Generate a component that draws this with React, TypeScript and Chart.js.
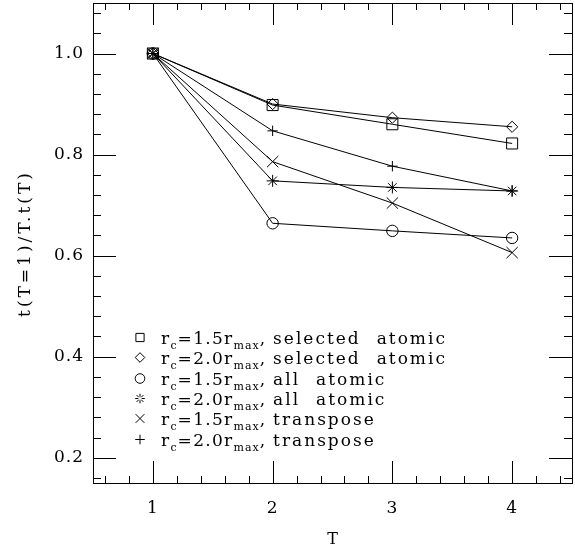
import React, { useEffect, useRef } from 'react';
import { Chart, registerables } from 'chart.js';

Chart.register(...registerables);

const T = [1, 2, 3, 4];
const sel15 = [1.0, 0.898, 0.86, 0.822];
const sel20 = [1.0, 0.9, 0.873, 0.855];
const all15 = [1.0, 0.664, 0.649, 0.635];
const all20 = [1.0, 0.748, 0.735, 0.728];
const tr15 = [1.0, 0.786, 0.704, 0.606];
const tr20 = [1.0, 0.847, 0.777, 0.728];

const rcValues = ['1.5', '2.0', '1.5', '2.0', '1.5', '2.0'];
const descriptions = ['selected atomic', 'selected atomic', 'all atomic', 'all atomic', 'transpose', 'transpose'];
const seriesData = [sel15, sel20, all15, all20, tr15, tr20];
const pointStyles = ['rect', 'rectRot', 'circle', 'star', 'crossRot', 'cross'];
const pointRadii = [7.8, 5.6, 5.7, 6, 8, 5.2];
const legendRadii = [5.8, 4.8, 4.8, 4.8, 6.2, 4.8];

const xTickValues = [1, 2, 3, 4];
const yTickValues = [0.2, 0.4, 0.6, 0.8, 1.0];
const xTitle = 'T';
const yTitle = 't(T=1)/T.t(T)';

const FONT = '"DejaVu Serif", serif';

const spacingPlugin = {
  id: 'spacing',
  beforeLayout(chart: any) {
    chart.ctx.letterSpacing = '1px';
  },
  beforeDraw(chart: any) {
    chart.ctx.letterSpacing = '1px';
  },
};

const framePlugin = {
  id: 'frameTicks',
  afterDatasetsDraw(chart: any) {
    const { ctx, chartArea } = chart;
    const { left, right, top, bottom } = chartArea;
    const xs = chart.scales.x;
    const ys = chart.scales.y;
    ctx.save();
    ctx.strokeStyle = '#000';
    ctx.lineWidth = 1;
    ctx.strokeRect(left + 0.5, top + 0.5, right - left, bottom - top);
    ctx.beginPath();
    for (let i = 3; i <= 22; i++) {
      const v = i / 5;
      const px = Math.round(xs.getPixelForValue(v)) + 0.5;
      const len = i % 5 === 0 ? 22 : 7;
      ctx.moveTo(px, bottom);
      ctx.lineTo(px, bottom - len);
      ctx.moveTo(px, top);
      ctx.lineTo(px, top + len);
    }
    for (let i = 4; i <= 27; i++) {
      const v = i / 25;
      const py = Math.round(ys.getPixelForValue(v)) + 0.5;
      const len = i % 5 === 0 ? 23 : 8;
      ctx.moveTo(left, py);
      ctx.lineTo(left + len, py);
      ctx.moveTo(right, py);
      ctx.lineTo(right - len, py);
    }
    ctx.stroke();

    // axis titles
    ctx.fillStyle = '#000';
    ctx.font = `16px ${FONT}`;
    ctx.letterSpacing = '0px';
    ctx.textAlign = 'center';
    ctx.textBaseline = 'alphabetic';
    ctx.fillText(xTitle, (left + right) / 2, 544);

    ctx.save();
    ctx.translate(30, 245);
    ctx.rotate(-Math.PI / 2);
    ctx.font = `17px ${FONT}`;
    ctx.letterSpacing = '3px';
    ctx.textAlign = 'center';
    ctx.fillText(yTitle, 1.5, 0);
    ctx.restore();
    ctx.restore();
  },
};

function drawMarker(ctx: CanvasRenderingContext2D, style: string, x: number, y: number, r: number) {
  ctx.beginPath();
  if (style === 'rect') {
    const s = r * Math.SQRT1_2;
    ctx.rect(x - s, y - s, 2 * s, 2 * s);
  } else if (style === 'rectRot') {
    ctx.moveTo(x, y - r);
    ctx.lineTo(x + r, y);
    ctx.lineTo(x, y + r);
    ctx.lineTo(x - r, y);
    ctx.closePath();
  } else if (style === 'circle') {
    ctx.arc(x, y, r, 0, Math.PI * 2);
  } else if (style === 'star') {
    for (let k = 0; k < 4; k++) {
      const a = (k * Math.PI) / 4;
      const dx = Math.cos(a) * r;
      const dy = Math.sin(a) * r;
      ctx.moveTo(x - dx, y - dy);
      ctx.lineTo(x - dx * 0.35, y - dy * 0.35);
      ctx.moveTo(x + dx * 0.35, y + dy * 0.35);
      ctx.lineTo(x + dx, y + dy);
    }
  } else if (style === 'crossRot') {
    const s = r * Math.SQRT1_2;
    ctx.moveTo(x - s, y - s);
    ctx.lineTo(x + s, y + s);
    ctx.moveTo(x + s, y - s);
    ctx.lineTo(x - s, y + s);
  } else if (style === 'cross') {
    ctx.moveTo(x - r, y);
    ctx.lineTo(x + r, y);
    ctx.moveTo(x, y - r);
    ctx.lineTo(x, y + r);
  }
  ctx.stroke();
}

const legendPlugin = {
  id: 'subLegend',
  afterDraw(chart: any) {
    const { ctx, chartArea } = chart;
    const markerX = chartArea.left + 47;
    const textX = chartArea.left + 68;
    const firstBaseline = 344;
    const step = 20.3;
    const wordGap = 16;
    ctx.save();
    ctx.strokeStyle = '#000';
    ctx.fillStyle = '#000';
    ctx.lineWidth = 1;
    ctx.textBaseline = 'alphabetic';
    ctx.textAlign = 'left';
    const mainFont = `17px ${FONT}`;
    const subFont = `11px ${FONT}`;
    chart.data.datasets.forEach((ds: any, i: number) => {
      const base = Math.round(firstBaseline + step * i);
      drawMarker(ctx, pointStyles[i], markerX, base - 6.5, legendRadii[i]);
      const runs: [string, boolean][] = [
        ['r', false],
        ['c', true],
        ['=' + rcValues[i] + 'r', false],
        ['max', true],
        [', ', false],
      ];
      let x = textX;
      for (const [txt, sub] of runs) {
        ctx.font = sub ? subFont : mainFont;
        ctx.letterSpacing = sub ? '1px' : '1.3px';
        ctx.fillText(txt, x, sub ? base + 5 : base);
        x += ctx.measureText(txt).width;
      }
      ctx.font = mainFont;
      ctx.letterSpacing = '2px';
      const words = descriptions[i].split(' ');
      words.forEach((w, k) => {
        ctx.fillText(w, x, base);
        x += ctx.measureText(w).width + (k < words.length - 1 ? wordGap : 0);
      });
    });
    ctx.restore();
  },
};

export default function App() {
  const ref = useRef<HTMLCanvasElement>(null);
  useEffect(() => {
    if (!ref.current) return;
    const chart = new Chart(ref.current, {
      type: 'line',
      data: {
        datasets: seriesData.map((d, i) => ({
          label: 'r_c=' + rcValues[i] + 'r_max, ' + descriptions[i],
          data: T.map((t, j) => ({ x: t, y: d[j] })),
          borderColor: '#000',
          borderWidth: 1,
          backgroundColor: 'rgba(0,0,0,0)',
          pointStyle: pointStyles[i] as any,
          pointRadius: pointRadii[i],
          pointBorderWidth: 1,
          pointBorderColor: '#000',
          pointBackgroundColor: 'rgba(0,0,0,0)',
          tension: 0,
          fill: false,
        })),
      },
      options: {
        animation: false,
        responsive: false,
        devicePixelRatio: 1,
        layout: { autoPadding: false, padding: { top: 3, right: 3, left: 0, bottom: 0 } },
        plugins: { legend: { display: false }, tooltip: { enabled: false } },
        scales: {
          x: {
            type: 'linear',
            min: 0.5,
            max: 4.5,
            grid: { display: false, drawTicks: false },
            border: { display: false },
            afterBuildTicks: (s: any) => {
              s.ticks = xTickValues.map((v) => ({ value: v }));
            },
            afterFit: (s: any) => {
              s.height = 65;
              s.paddingLeft = 0;
              s.paddingRight = 0;
              s.paddingTop = 0;
              s.paddingBottom = 0;
            },
            ticks: {
              color: '#000',
              font: { family: FONT, size: 17 },
              padding: 15,
              maxRotation: 0,
              callback: (v: any) => String(v),
            },
            title: { display: false },
          },
          y: {
            type: 'linear',
            min: 0.15,
            max: 1.1,
            grid: { display: false, drawTicks: false },
            border: { display: false },
            afterBuildTicks: (s: any) => {
              s.ticks = yTickValues.map((v) => ({ value: v }));
            },
            afterFit: (s: any) => {
              s.width = 93;
              s.paddingLeft = 0;
              s.paddingRight = 0;
              s.paddingTop = 0;
              s.paddingBottom = 0;
            },
            ticks: {
              color: '#000',
              font: { family: FONT, size: 17 },
              padding: 9,
              callback: (v: any) => Number(v).toFixed(1),
            },
            title: { display: false },
          },
        },
      },
      plugins: [spacingPlugin, framePlugin, legendPlugin],
    });
    return () => chart.destroy();
  }, []);
  return (
    <div style={{ position: 'absolute', left: 0, top: 0, width: 575, height: 548, background: '#fff' }}>
      <canvas ref={ref} width={575} height={548} />
    </div>
  );
}
